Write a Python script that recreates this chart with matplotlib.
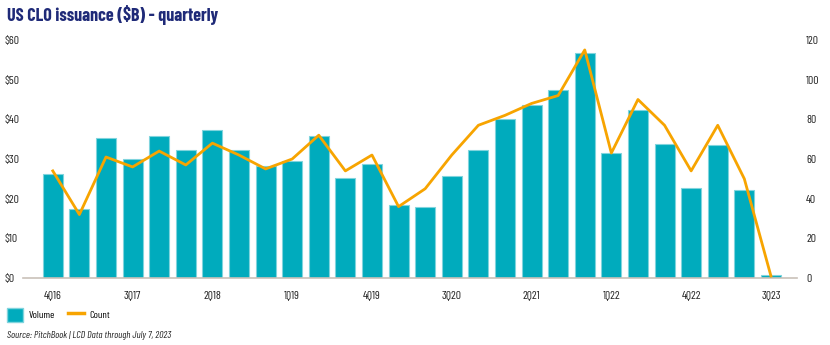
import matplotlib
matplotlib.use("Agg")
import matplotlib.pyplot as plt
from matplotlib.patches import Patch
from matplotlib.lines import Line2D

plt.rcParams['font.family'] = ['Barlow Condensed', 'DejaVu Sans']

# quarters 4Q16 .. 3Q23
quarters = ["4Q16", "1Q17", "2Q17", "3Q17", "4Q17", "1Q18", "2Q18", "3Q18", "4Q18",
            "1Q19", "2Q19", "3Q19", "4Q19", "1Q20", "2Q20", "3Q20", "4Q20",
            "1Q21", "2Q21", "3Q21", "4Q21", "1Q22", "2Q22", "3Q22", "4Q22",
            "1Q23", "2Q23", "3Q23"]
volume = [26.2, 17.5, 35.3, 30.0, 35.8, 32.2, 37.4, 32.2, 28.2, 29.5, 35.9, 25.1,
          28.8, 18.3, 18.0, 25.8, 32.2, 40.0, 43.7, 47.4, 56.8, 31.4, 42.3, 33.8,
          22.7, 33.5, 22.2, 0.8]
count = [54, 32, 61, 56, 64, 57, 68, 62, 55, 60, 72, 54,
         62, 36, 45, 62, 77, 82, 88, 92, 115, 63, 90, 77,
         54, 77, 50, 1]
tick_every = 3

BAR = "#00abbd"
BAR_EDGE = "#80d4dd"
LINE = "#f7a400"
TITLE = "#1f2a78"
TEXT = "#222222"

fig = plt.figure(figsize=(8.3, 3.45), dpi=100)
ax = fig.add_axes([23 / 830, 1 - 278 / 345, 774 / 830, 238 / 345])
ax2 = ax.twinx()

x = list(range(len(quarters)))
ax.bar(x, volume, width=0.75, color=BAR, edgecolor=BAR_EDGE, linewidth=0.8, zorder=2)
ax2.plot(x, count, color=LINE, linewidth=2, zorder=3)

ax.set_xlim(-1.12, len(quarters) - 0.02)
ax.set_ylim(0, 60)
ax2.set_ylim(0, 120)
ax.set_yticks(range(0, 61, 10))
ax.set_yticklabels([f"${v}" for v in range(0, 61, 10)])
ax2.set_yticks(range(0, 121, 20))

ax.set_xticks(x[::tick_every])
ax.set_xticklabels(quarters[::tick_every])

for a in (ax, ax2):
    for s in a.spines.values():
        s.set_visible(False)
ax.spines['bottom'].set_visible(True)
ax.spines['bottom'].set_color("#c9c1b9")
ax.spines['bottom'].set_linewidth(1.2)

ax.tick_params(axis='both', length=0, labelsize=8.5, colors=TEXT)
ax.tick_params(axis='x', pad=9)
ax.tick_params(axis='y', pad=13)
for lab in ax.get_yticklabels():
    lab.set_horizontalalignment('left')
ax2.tick_params(axis='y', length=0, labelsize=8.5, colors=TEXT, pad=6.5)

fig.text(7 / 830, 1 - 15 / 345, "US CLO issuance ($B) - quarterly", fontsize=13,
         fontweight='bold', color=TITLE, va='center', ha='left')

handles = [Patch(facecolor=BAR, edgecolor=BAR_EDGE, label="Volume"),
           Line2D([0], [0], color=LINE, linewidth=2.5, label="Count")]
fig.legend(handles=handles, loc='center left', bbox_to_anchor=(0.0, 1 - 315 / 345),
           ncol=2, frameon=False, fontsize=7.5, handlelength=1.5, handleheight=1.6,
           handletextpad=0.55, columnspacing=1.25, borderaxespad=0.3)

fig.text(7 / 830, 1 - 336 / 345, "Source: PitchBook | LCD Data through July 7, 2023",
         fontsize=7.2, style='italic', color=TEXT, va='center', ha='left')

fig.savefig("out.png", dpi=100)
